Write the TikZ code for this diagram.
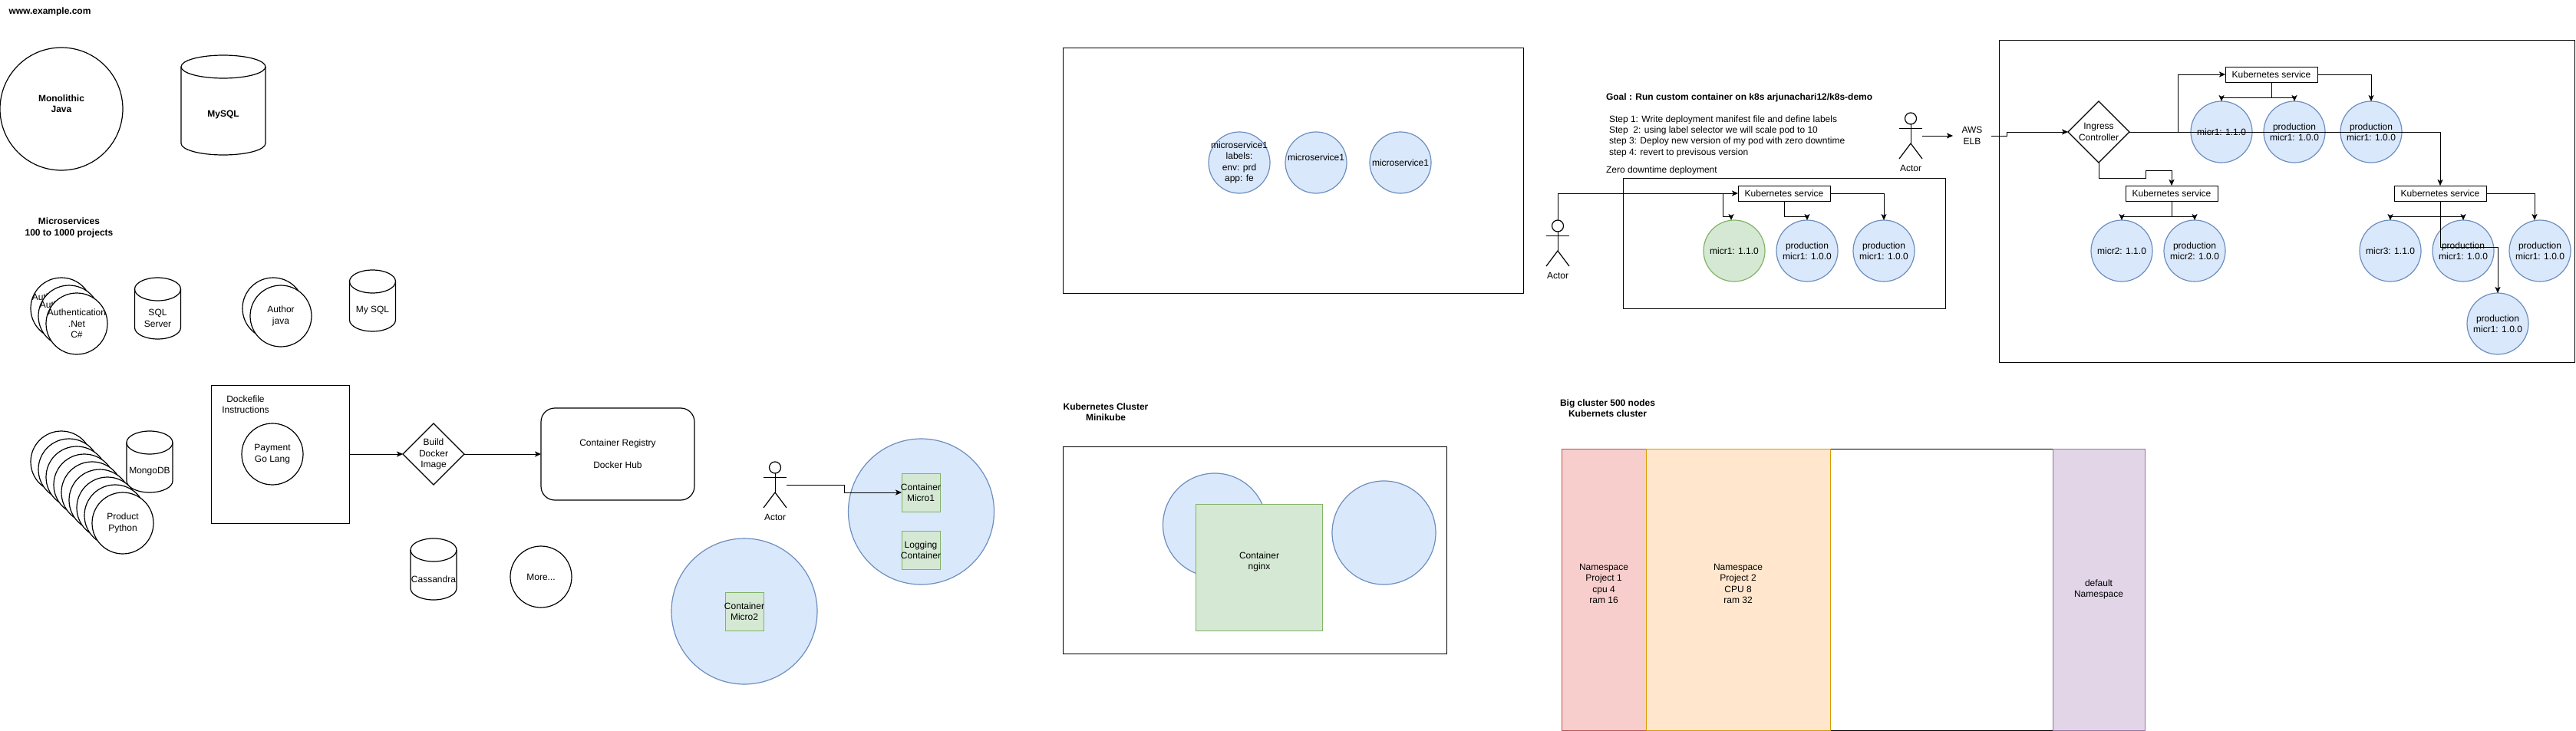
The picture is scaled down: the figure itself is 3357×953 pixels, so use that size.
\documentclass[tikz,border=0pt]{standalone}
\usepackage{fontspec}
\setmainfont{Liberation Sans}
\usetikzlibrary{arrows.meta,shapes.geometric}

\definecolor{podfill}{HTML}{DAE8FC}
\definecolor{podedge}{HTML}{6C8EBF}
\definecolor{boxfill}{HTML}{D5E8D4}
\definecolor{boxedge}{HTML}{82B366}
\definecolor{redfill}{HTML}{F8CECC}
\definecolor{rededge}{HTML}{B85450}
\definecolor{orangefill}{HTML}{FFE6CC}
\definecolor{orangeedge}{HTML}{D79B00}
\definecolor{purplefill}{HTML}{E1D5E7}
\definecolor{purpleedge}{HTML}{9673A6}

\tikzset{
    every node/.style={font=\fontsize{12}{14.4}\selectfont, align=center, inner sep=0pt, outer sep=0pt},
    boldtext/.style={font=\fontsize{12}{14.4}\selectfont\bfseries},
    hollow/.style={circle, draw, line width=1.2pt, fill=white, minimum size=#1},
    hollow/.default=80pt,
    pod/.style={circle, draw=podedge, line width=1.2pt, fill=podfill, minimum size=#1},
    pod/.default=80pt,
    greenpod/.style={circle, draw=boxedge, line width=1.2pt, fill=boxfill, minimum size=80pt},
    cbox/.style={rectangle, draw=boxedge, fill=boxfill, minimum size=#1},
    cbox/.default=50pt,
    panel/.style 2 args={rectangle, draw, minimum width=#1, minimum height=#2},
    svcbox/.style={rectangle, draw, fill=white, minimum width=120pt, minimum height=20pt},
    dbbox/.style 2 args={rectangle, minimum width=#1, minimum height=#2},
    decision/.style={diamond, aspect=1, draw, line width=1.2pt, fill=white, minimum width=80pt, minimum height=80pt},
    nspace/.style 2 args={rectangle, draw=#2edge, fill=#2fill, minimum width=#1, minimum height=367pt},
    actorbox/.style={rectangle, minimum width=30pt, minimum height=60pt}
}

\begin{document}
\begin{tikzpicture}[x=1pt, y=-1pt, >={Stealth[length=8pt, width=7pt, inset=2pt]}]
    \useasboundingbox (0,0) rectangle (3357,953);

    % monolith and first services
    \node[boldtext] (site) at (65,15) {www.example.com};
    \node[hollow=160pt, label={[boldtext, yshift=7pt]center:{Monolithic\\Java}}] (mono) at (80,142) {};
    \node[boldtext] (microtitle) at (90,297) {Microservices\\100 to 1000 projects};

    % databases
    \foreach \db/\cx/\cy/\rx/\dh/\words in {monodb/291/137/55/130/\textbf{MySQL}, sqlserver/205.5/402/30/80/{SQL\\Server}, authordb/485.5/392/30/80/My SQL, mongo/195/602/30/80/MongoDB, cassandra/565/742/30/80/Cassandra}{
        \pgfmathsetmacro{\bh}{\dh-30}
        \node[dbbox={2*\rx pt}{\dh pt}] (\db) at (\cx,\cy) {};
        \draw[fill=white, line width=1.2pt] (\db.north west) ++(0,15) -- ++(0,\bh) arc[start angle=180, end angle=360, x radius=\rx pt, y radius=15pt] -- ++(0,-\bh) arc[start angle=0, end angle=180, x radius=\rx pt, y radius=15pt] -- cycle;
        \draw[line width=1.2pt] (\db.north west) ++(0,15) arc[start angle=180, end angle=360, x radius=\rx pt, y radius=15pt];
        \node (\db text) at (\cx,\cy+13) {\words};
    }

    \foreach \i in {0,1,2}{
        \node[hollow, label={center:{Authentication\\.Net\\C\#}}] (auth\i) at (80+10*\i,402+10*\i) {};
    }
    \node[hollow] (authorback) at (356,402) {};
    \node[hollow, label={center:{Author\\java}}] (author) at (366,412) {};
    \foreach \i in {0,...,7}{
        \node[hollow] (prod\i) at (80+10*\i,602+10*\i) {};
    }
    \node[hollow, label={center:{Product\\Python}}] (product) at (160,682) {};
    \node[hollow, label={center:More...}] (more) at (705,752) {};

    % docker build
    \node[panel={180pt}{180pt}] (dockerfile) at (365,592) {};
    \node (dockertext) at (320,527.5) {Dockefile\\Instructions};
    \node[hollow, label={center:{Payment\\Go Lang}}] (payment) at (355,592) {};
    \node[decision, label={center:{Build\\Docker\\Image}}] (build) at (565,592) {};
    \node[rectangle, draw, line width=1.2pt, rounded corners=18pt, minimum width=200pt, minimum height=120pt] (registry) at (805,592) {Container Registry\\~\\Docker Hub};
    \draw[->] (dockerfile.east) -- (build.west);
    \draw[->] (build.east) -- (registry.west);

    % actors
    \foreach \who/\cx/\cy in {actorA/1010/632, actorB/2030/317, actorC/2490/177}{
        \node[actorbox, label={[yshift=-8pt]below:Actor}] (\who) at (\cx,\cy) {};
        \draw[line width=1.2pt] (\who.north) ++(0,7.5) circle (7.5pt);
        \draw (\who.north west) ++(0,20) -- ++(30,0);
        \draw (\who.north) ++(0,15) -- ++(0,25);
        \draw[line width=1.2pt] (\who.south west) -- ++(15,-20) -- (\who.south east);
    }

    % pods with containers
    \node[pod=190pt] (podtop) at (1200.5,667) {};
    \node[pod=190pt] (podlow) at (970,797) {};
    \node[cbox, label={center:{Container\\Micro1}}] (micro1) at (1200,642) {};
    \node[cbox, label={center:{Logging\\Container}}] (logging) at (1200,717) {};
    \node[cbox, label={center:{Container\\Micro2}}] (micro2) at (970,797) {};
    \draw[->] (actorA.east) -- ++(75,0) |- (micro1.west);

    % labelled microservices
    \node[panel={600pt}{320pt}] (labelpanel) at (1685,222) {};
    \node[pod, label={center:{microservice1\\labels:\\env: prd\\app: fe}}] (ms1) at (1615,212) {};
    \node[pod, label={[yshift=7pt]center:microservice1}] (ms2) at (1715,212) {};
    \node[pod, label={center:microservice1}] (ms3) at (1825,212) {};

    % minikube
    \node[boldtext] (minititle) at (1441,537) {Kubernetes Cluster\\Minikube};
    \node[panel={500pt}{270pt}] (minipanel) at (1635,717) {};
    \node[pod=135pt] (minipodA) at (1583,684.5) {};
    \node[pod=135pt] (minipodB) at (1803.5,694.5) {};
    \node[cbox=165pt, label={[yshift=7pt]center:{Container\\nginx}}] (nginx) at (1641,739.5) {};

    % zero downtime
    \node[boldtext, anchor=west] (goal) at (2093,127) {Goal : Run custom container on k8s arjunachari12/k8s-demo};
    \node[anchor=west, align=left] (steps) at (2097,177.5) {Step 1: Write deployment manifest file and define labels\\Step\ \ 2: using label selector we will scale pod to 10\\step 3: Deploy new version of my pod with zero downtime\\step 4: revert to previsous version};
    \node[anchor=west] (zerotitle) at (2093,222) {Zero downtime deployment};
    \node[panel={420pt}{170pt}] (zeropanel) at (2325,317) {};
    \node[svcbox] (ksvcA) at (2325,252) {Kubernetes service};
    \node[greenpod, label={center:{micr1: 1.1.0}}] (podA1) at (2260,327) {};
    \node[pod, label={center:{production\\micr1: 1.0.0}}] (podA2) at (2355,327) {};
    \node[pod, label={center:{production\\micr1: 1.0.0}}] (podA3) at (2455,327) {};
    \coordinate (tipA) at (2256,287);
    \draw[->] (actorB.north) |- (ksvcA.west);
    \draw[->] (actorB.north) |- (2245,252) -- (2245,282) -| (tipA);
    \draw[->] (ksvcA.south) -- (2325,282) -| (podA2.north);
    \draw[->] (ksvcA.east) -| (podA3.north);

    % ingress
    \node[panel={750pt}{420pt}] (ingresspanel) at (2980,262) {};
    \node[rectangle, minimum width=50pt, minimum height=30pt] (elb) at (2570,177) {AWS\\ELB};
    \node[decision, label={center:{Ingress\\Controller}}] (ingress) at (2735,172) {};
    \node[svcbox] (ksvcB) at (2960,97) {Kubernetes service};
    \node[svcbox] (ksvcC) at (2830,252) {Kubernetes service};
    \node[svcbox] (ksvcD) at (3180,252) {Kubernetes service};
    \node[pod, label={center:{micr1: 1.1.0}}] (podB1) at (2895,172) {};
    \node[pod, label={center:{production\\micr1: 1.0.0}}] (podB2) at (2990,172) {};
    \node[pod, label={center:{production\\micr1: 1.0.0}}] (podB3) at (3090,172) {};
    \node[pod, label={center:{micr2: 1.1.0}}] (podC1) at (2765,327) {};
    \node[pod, label={center:{production\\micr2: 1.0.0}}] (podC2) at (2860,327) {};
    \node[pod, label={center:{micr3: 1.1.0}}] (podD1) at (3115,327) {};
    \node[pod, label={center:{production\\micr1: 1.0.0}}] (podD2) at (3210,327) {};
    \node[pod, label={center:{production\\micr1: 1.0.0}}] (podD3) at (3310,327) {};
    \node[pod, label={center:{production\\micr1: 1.0.0}}] (podD4) at (3255,422) {};
    \coordinate (tipD) at (3303,287);
    \draw[->] (actorC.east) -- (elb.west);
    \draw[->] (elb.east) -- ++(20,0) |- (ingress.west);
    \draw[->] (ingress.east) -- (2838,172) |- (ksvcB.west);
    \draw[->] (ingress.east) -| (ksvcD.north);
    \draw[->] (ingress.south) -- (2735,232) -- (2796,232) -- (2796,222) -| (ksvcC.north);
    \draw[->] (ksvcB.south) -- (2960,127) -| (podB1.north);
    \draw[->] (ksvcB.south) -- (2960,127) -| (podB2.north);
    \draw[->] (ksvcB.east) -| (podB3.north);
    \draw[->] (ksvcC.south) -- (2830,282) -| (podC1.north);
    \draw[->] (ksvcC.south) -- (2830,282) -| (podC2.north);
    \draw[->] (ksvcD.south) -- (3180,282) -| (podD1.north);
    \draw[->] (ksvcD.south) -- (3180,282) -| (podD2.north);
    \draw[->] (ksvcD.east) -| (tipD);
    \draw[->] (ksvcD.south) -- (3180,322) -| (podD4.north);

    % namespaces
    \node[boldtext] (bigtitle) at (2095,532) {Big cluster 500 nodes\\Kubernets cluster};
    \node[panel={760pt}{367pt}] (bigpanel) at (2415,768.5) {};
    \node[nspace={110pt}{red}, label={[yshift=7.5pt]center:{Namespace\\Project 1\\cpu 4\\ram 16}}] (nsA) at (2090,768.5) {};
    \node[nspace={240pt}{orange}, label={[yshift=7.5pt]center:{Namespace\\Project 2\\CPU 8\\ram 32}}] (nsB) at (2265,768.5) {};
    \node[nspace={120pt}{purple}, label={center:{default\\Namespace}}] (nsC) at (2735,768.5) {};
\end{tikzpicture}
\end{document}
